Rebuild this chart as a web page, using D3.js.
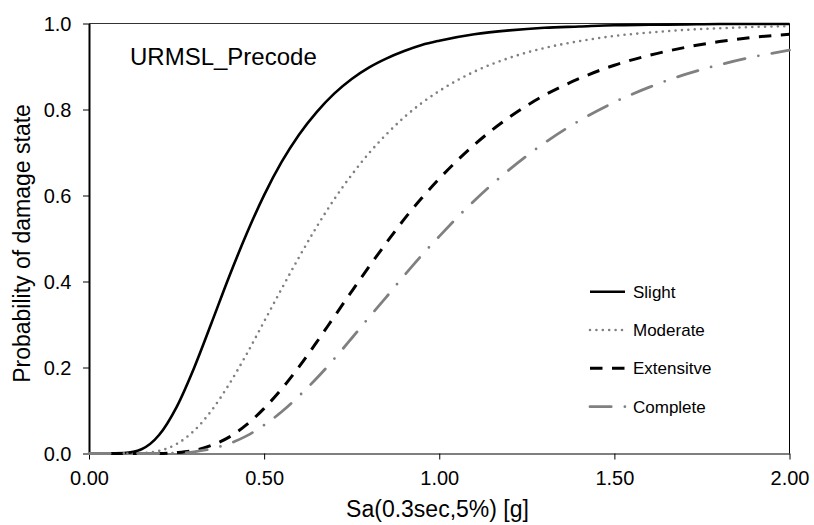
<!DOCTYPE html>
<html>
<head>
<meta charset="utf-8">
<script src="https://cdn.jsdelivr.net/npm/d3@7"></script>
<style>
  html, body { margin: 0; padding: 0; background: #ffffff; }
  svg { display: block; }
  text { font-family: "Liberation Sans", Arial, sans-serif; fill: #000; }
</style>
</head>
<body>
<svg id="chart" width="814" height="525"></svg>
<script>
// ---- data ----
const sa = [0, 0.05, 0.10, 0.15, 0.20, 0.25, 0.30, 0.35, 0.40, 0.45, 0.50, 0.55, 0.60, 0.65, 0.70, 0.75, 0.80, 0.85, 0.90, 0.95, 1.00,
            1.1, 1.2, 1.3, 1.4, 1.5, 1.6, 1.7, 1.8, 1.9, 2.0];
const slight     = [0, 0, 0.001, 0.010, 0.043, 0.108, 0.199, 0.304, 0.411, 0.511, 0.601, 0.678, 0.742, 0.794, 0.837, 0.871, 0.898, 0.919, 0.936, 0.950, 0.960,
                    0.975, 0.984, 0.990, 0.993, 0.996, 0.997, 0.998, 0.999, 0.999, 0.999];
const moderate   = [0, 0, 0, 0.001, 0.006, 0.022, 0.053, 0.100, 0.161, 0.231, 0.307, 0.383, 0.457, 0.527, 0.591, 0.648, 0.699, 0.743, 0.782, 0.815, 0.843,
                    0.888, 0.920, 0.943, 0.959, 0.971, 0.979, 0.985, 0.989, 0.992, 0.994];
const extensive  = [0, 0, 0, 0, 0.000, 0.002, 0.007, 0.019, 0.038, 0.067, 0.105, 0.150, 0.202, 0.259, 0.318, 0.377, 0.435, 0.491, 0.545, 0.594, 0.639,
                    0.718, 0.782, 0.833, 0.872, 0.903, 0.926, 0.944, 0.958, 0.968, 0.975];
const complete   = [0, 0, 0, 0, 0.000, 0.001, 0.004, 0.011, 0.023, 0.041, 0.066, 0.097, 0.134, 0.175, 0.220, 0.268, 0.317, 0.365, 0.414, 0.461, 0.505,
                    0.588, 0.660, 0.722, 0.774, 0.817, 0.852, 0.881, 0.904, 0.923, 0.938];
const seriesNames = ["Slight", "Moderate", "Extensitve", "Complete"];
const xTicks = [0, 0.5, 1.0, 1.5, 2.0];
const yTicks = [0, 0.2, 0.4, 0.6, 0.8, 1.0];
const chartLabel = "URMSL_Precode";
const xTitle = "Sa(0.3sec,5%) [g]";
const yTitle = "Probability of damage state";

// ---- layout & styles ----
const L = 89, R = 789.5, T = 23.5, B = 453.5;
const styles = [
  { color: "#000000", width: 2.6, dash: null, cap: "butt" },
  { color: "#808080", width: 2.6, dash: "0,6.4", cap: "round" },
  { color: "#000000", width: 3.0, dash: "12.5,9.5", cap: "butt" },
  { color: "#808080", width: 2.8, dash: "21.2,13.7,0,13.7", cap: "round" }
];

const svg = d3.select("#chart");
const x = d3.scaleLinear().domain([0, 2]).range([L, R]);
const y = d3.scaleLinear().domain([0, 1]).range([B, T]);

// frame: top & right
svg.append("line").attr("x1", L).attr("x2", R).attr("y1", T).attr("y2", T)
  .attr("stroke", "#333").attr("stroke-width", 1);
svg.append("line").attr("x1", R).attr("x2", R).attr("y1", T).attr("y2", B)
  .attr("stroke", "#000").attr("stroke-width", 1);

// x axis
const gx = svg.append("g").attr("transform", `translate(0,${B})`)
  .call(d3.axisBottom(x).tickValues(xTicks).tickFormat(d3.format(".2f"))
        .tickSize(6).tickSizeOuter(0).tickPadding(11.5));
gx.select(".domain").attr("stroke", "#000").attr("stroke-width", 1);
gx.selectAll(".tick line").attr("stroke", "#000");
gx.selectAll(".tick text").style("font-size", "20px").attr("font-family", null);

// y axis
const gy = svg.append("g").attr("transform", `translate(${L},0)`)
  .call(d3.axisLeft(y).tickValues(yTicks).tickFormat(d3.format(".1f"))
        .tickSize(6).tickSizeOuter(0).tickPadding(11.5));
gy.select(".domain").attr("stroke", "#000").attr("stroke-width", 2);
gy.selectAll(".tick line").attr("stroke", "#000");
gy.selectAll(".tick text").style("font-size", "20px").attr("font-family", null).attr("dy", "0.34em");

// curves
const series = [slight, moderate, extensive, complete];
const line = d3.line().x(d => x(d[0])).y(d => y(d[1])).curve(d3.curveMonotoneX);
series.forEach((vals, i) => {
  const st = styles[i];
  svg.append("path")
    .datum(sa.map((s, k) => [s, vals[k]]))
    .attr("d", line)
    .attr("fill", "none")
    .attr("stroke", st.color)
    .attr("stroke-width", st.width)
    .attr("stroke-linecap", st.cap)
    .attr("stroke-linejoin", "round")
    .attr("stroke-dasharray", st.dash);
});

// chart label
svg.append("text").attr("x", 130).attr("y", 65).style("font-size", "24px").text(chartLabel);

// axis titles
svg.append("text").attr("x", 437.5).attr("y", 517).attr("text-anchor", "middle")
  .style("font-size", "23px").text(xTitle);
svg.append("text").attr("transform", "translate(30,243.5) rotate(-90)").attr("text-anchor", "middle")
  .style("font-size", "23px").text(yTitle);

// legend
const legY = [291.7, 330, 368.3, 406.7];
seriesNames.forEach((name, i) => {
  const st = styles[i];
  svg.append("line").attr("x1", 590).attr("x2", 625).attr("y1", legY[i]).attr("y2", legY[i])
    .attr("stroke", st.color).attr("stroke-width", st.width)
    .attr("stroke-linecap", st.cap).attr("stroke-dasharray", st.dash);
  svg.append("text").attr("x", 633).attr("y", legY[i]).attr("dy", "0.35em")
    .style("font-size", "17px").text(name);
});
</script>
</body>
</html>
